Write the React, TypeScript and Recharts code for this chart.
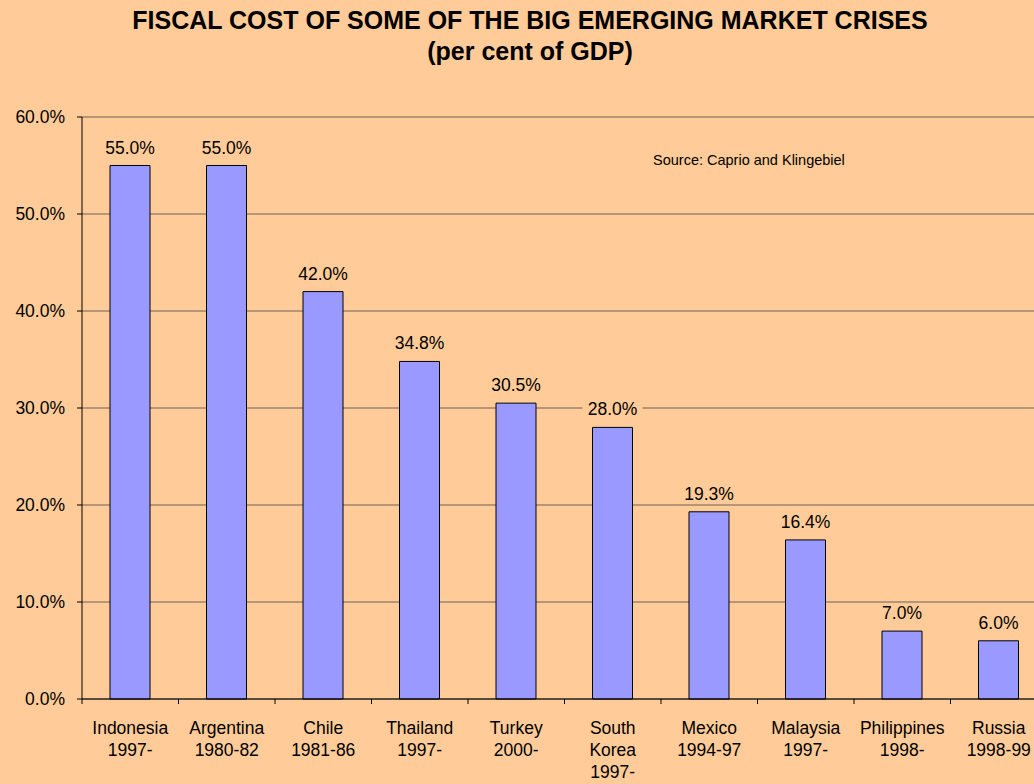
import { BarChart, Bar, XAxis, YAxis, CartesianGrid, LabelList } from "recharts"

const categories = [
  "Indonesia\n1997-",
  "Argentina\n1980-82",
  "Chile\n1981-86",
  "Thailand\n1997-",
  "Turkey\n2000-",
  "South\nKorea\n1997-",
  "Mexico\n1994-97",
  "Malaysia\n1997-",
  "Philippines\n1998-",
  "Russia\n1998-99",
]

const fiscalCost = [55.0, 55.0, 42.0, 34.8, 30.5, 28.0, 19.3, 16.4, 7.0, 6.0]

const yTicks = [0, 10, 20, 30, 40, 50, 60]

const data = categories.map((name, i) => ({ name, value: fiscalCost[i] }))

const BG = "#FFCC99"
const FONT = "'Liberation Sans', Arial, sans-serif"
const PLOT_W = 965
const BAND = PLOT_W / categories.length

const CategoryTick = ({ x, y, payload }: any) => {
  const lines = String(payload.value).split("\n")
  const left = x - BAND / 2
  return (
    <g>
      <line x1={left} y1={y} x2={left} y2={y + 5} stroke="#000" strokeWidth={1} />
      {lines.map((t, i) => (
        <text
          key={i}
          x={x}
          y={y + 29 + i * 22}
          textAnchor="middle"
          dominantBaseline="central"
          fontSize={17.5}
          fontFamily={FONT}
          fill="#000"
        >
          {t}
        </text>
      ))}
    </g>
  )
}

const ValueLabel = ({ x, y, width, value }: any) => {
  const cx = x + width / 2
  const cy = y - 18
  return (
    <g>
      <rect x={cx - 30} y={cy - 10} width={60} height={20} fill={BG} />
      <text
        x={cx}
        y={cy}
        textAnchor="middle"
        dominantBaseline="central"
        fontSize={17.5}
        fontFamily={FONT}
        fill="#000"
      >
        {Number(value).toFixed(1)}%
      </text>
    </g>
  )
}

export default function App() {
  return (
    <div
      style={{
        position: "fixed",
        left: 0,
        top: 0,
        width: 1034,
        height: 784,
        overflow: "hidden",
        background: BG,
        fontFamily: FONT,
      }}
    >
      <div
        style={{
          position: "absolute",
          left: 0,
          top: 5,
          width: 1060,
          textAlign: "center",
          fontWeight: "bold",
          fontSize: 25,
          lineHeight: "31px",
          color: "#000",
          whiteSpace: "nowrap",
        }}
      >
        FISCAL COST OF SOME OF THE BIG EMERGING MARKET CRISES
        <br />
        (per cent of GDP)
      </div>
      <div
        style={{
          position: "absolute",
          left: 653,
          top: 152,
          fontSize: 14.5,
          lineHeight: "16px",
          color: "#000",
          whiteSpace: "nowrap",
        }}
      >
        Source: Caprio and Klingebiel
      </div>
      <div style={{ position: "absolute", left: 0, top: 0 }}>
        <BarChart
          width={1060}
          height={784}
          data={data}
          margin={{ top: 117, right: 13, bottom: 0, left: 0 }}
          barSize={40}
        >
          <CartesianGrid vertical={false} stroke="#6f6154" strokeWidth={1} />
          <XAxis
            dataKey="name"
            interval={0}
            height={85}
            tickSize={0}
            tickMargin={0}
            tickLine={false}
            axisLine={{ stroke: "#000", strokeWidth: 1 }}
            tick={<CategoryTick />}
          />
          <YAxis
            width={82}
            domain={[0, 60]}
            ticks={yTicks}
            interval={0}
            tickSize={5}
            tickMargin={12}
            tickLine={{ stroke: "#000" }}
            axisLine={{ stroke: "#000", strokeWidth: 1 }}
            tickFormatter={(v: number) => `${v.toFixed(1)}%`}
            tick={{ fill: "#000", fontSize: 17.5, fontFamily: FONT }}
          />
          <Bar dataKey="value" fill="#9999FF" stroke="#000" strokeWidth={1} isAnimationActive={false}>
            <LabelList dataKey="value" content={<ValueLabel />} />
          </Bar>
        </BarChart>
      </div>
    </div>
  )
}
